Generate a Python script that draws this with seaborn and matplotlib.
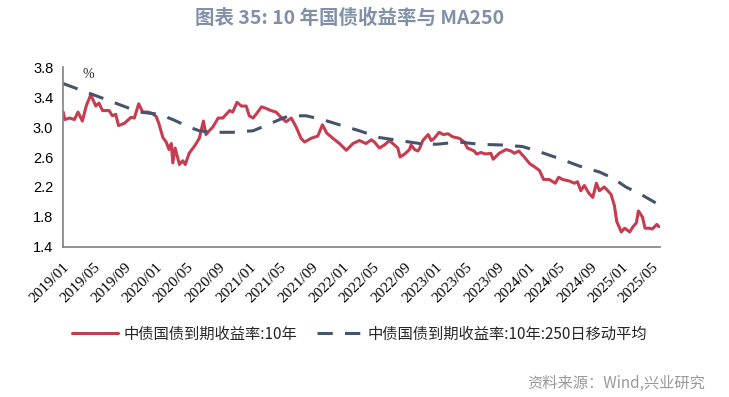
import seaborn as sns
import matplotlib.pyplot as plt
import matplotlib.dates as mdates
import pandas as pd

# 中债国债到期收益率:10年
yield_dates = [
    "2019-01-02", "2019-01-08", "2019-01-27", "2019-02-15", "2019-03-01", "2019-03-18",
    "2019-04-03", "2019-04-20", "2019-05-10", "2019-05-22", "2019-06-05", "2019-07-01",
    "2019-07-14", "2019-07-27", "2019-08-07", "2019-08-30", "2019-09-25", "2019-10-08",
    "2019-10-25", "2019-11-10", "2019-11-30", "2019-12-18", "2020-01-02", "2020-01-12",
    "2020-01-28", "2020-02-10", "2020-02-21", "2020-03-01", "2020-03-07", "2020-03-16",
    "2020-04-02", "2020-04-15", "2020-04-25", "2020-05-10", "2020-06-01", "2020-06-19",
    "2020-07-05", "2020-07-15", "2020-07-28", "2020-08-11", "2020-09-01", "2020-09-19",
    "2020-10-16", "2020-10-28", "2020-11-14", "2020-12-01", "2020-12-20", "2021-01-01",
    "2021-01-16", "2021-01-30", "2021-02-18", "2021-03-07", "2021-03-27", "2021-04-16",
    "2021-04-30", "2021-05-25", "2021-06-15", "2021-07-04", "2021-07-23", "2021-08-06",
    "2021-09-01", "2021-09-27", "2021-10-15", "2021-11-01", "2021-11-25", "2021-12-21",
    "2022-01-17", "2022-02-12", "2022-03-09", "2022-03-22", "2022-04-04", "2022-04-25",
    "2022-05-07", "2022-05-27", "2022-06-15", "2022-07-05", "2022-07-25", "2022-08-07",
    "2022-08-16", "2022-09-03", "2022-09-22", "2022-09-28", "2022-10-12", "2022-10-25",
    "2022-11-01", "2022-11-13", "2022-12-04", "2022-12-16", "2022-12-28", "2023-01-16",
    "2023-02-01", "2023-02-20", "2023-03-10", "2023-04-05", "2023-04-25", "2023-05-07",
    "2023-06-03", "2023-06-12", "2023-06-29", "2023-07-18", "2023-08-07", "2023-08-16",
    "2023-09-09", "2023-10-06", "2023-10-25", "2023-11-07", "2023-11-25", "2023-12-16",
    "2024-01-07", "2024-01-25", "2024-02-14", "2024-03-01", "2024-03-23", "2024-04-16",
    "2024-04-29", "2024-05-15", "2024-06-10", "2024-06-30", "2024-07-12", "2024-07-25",
    "2024-08-08", "2024-08-25", "2024-09-10", "2024-09-24", "2024-10-06", "2024-10-25",
    "2024-11-08", "2024-11-21", "2024-12-04", "2024-12-13", "2024-12-31", "2025-01-13",
    "2025-02-02", "2025-02-15", "2025-02-28", "2025-03-08", "2025-03-24", "2025-04-03",
    "2025-04-19", "2025-05-02", "2025-05-19", "2025-05-28",
]
yield_values = [
    3.20, 3.10, 3.12, 3.10, 3.20, 3.08,
    3.29, 3.43, 3.28, 3.32, 3.22, 3.22,
    3.15, 3.17, 3.02, 3.05, 3.13, 3.12,
    3.31, 3.20, 3.20, 3.18, 3.14, 3.05,
    2.86, 2.80, 2.70, 2.78, 2.52, 2.72,
    2.50, 2.55, 2.50, 2.65, 2.75, 2.85,
    3.08, 2.90, 2.95, 3.00, 3.12, 3.12,
    3.22, 3.20, 3.33, 3.28, 3.28, 3.15,
    3.12, 3.18, 3.27, 3.25, 3.22, 3.20,
    3.15, 3.07, 3.12, 3.00, 2.85, 2.80,
    2.85, 2.88, 3.03, 2.92, 2.85, 2.78,
    2.69, 2.78, 2.82, 2.80, 2.78, 2.83,
    2.80, 2.72, 2.76, 2.82, 2.76, 2.72,
    2.60, 2.64, 2.70, 2.76, 2.70, 2.68,
    2.72, 2.82, 2.90, 2.82, 2.85, 2.93,
    2.90, 2.91, 2.87, 2.85, 2.80, 2.72,
    2.68, 2.64, 2.66, 2.64, 2.65, 2.57,
    2.65, 2.70, 2.68, 2.65, 2.68, 2.60,
    2.51, 2.47, 2.42, 2.30, 2.30, 2.25,
    2.33, 2.30, 2.28, 2.25, 2.27, 2.15,
    2.22, 2.12, 2.06, 2.25, 2.15, 2.20,
    2.15, 2.10, 1.95, 1.74, 1.60, 1.65,
    1.60, 1.67, 1.72, 1.88, 1.80, 1.65,
    1.65, 1.64, 1.70, 1.67,
]

# 250日移动平均
ma_dates = [
    "2019-01-02", "2019-05-01", "2019-08-10", "2019-10-28", "2020-01-15", "2020-03-07",
    "2020-05-10", "2020-06-19", "2020-08-11", "2020-10-28", "2021-01-16", "2021-03-07",
    "2021-04-30", "2021-06-06", "2021-08-12", "2021-10-15", "2021-12-21", "2022-03-09",
    "2022-05-27", "2022-08-13", "2022-11-01", "2023-01-05", "2023-04-05", "2023-06-22",
    "2023-09-21", "2023-12-09", "2024-02-14", "2024-05-01", "2024-07-19", "2024-10-06",
    "2024-11-27", "2025-01-18", "2025-03-24", "2025-05-19", "2025-05-28",
]
ma_values = [
    3.58, 3.43, 3.30, 3.20, 3.17, 3.10,
    3.00, 2.95, 2.93, 2.93, 2.95, 3.02,
    3.10, 3.15, 3.15, 3.10, 3.03, 2.95,
    2.86, 2.82, 2.78, 2.77, 2.80, 2.77,
    2.76, 2.74, 2.67, 2.58, 2.48, 2.40,
    2.32, 2.20, 2.09, 1.98, 1.96,
]

yield_label = "中债国债到期收益率:10年"
ma_label = "中债国债到期收益率:10年:250日移动平均"
y_ticks = [1.4, 1.8, 2.2, 2.6, 3.0, 3.4, 3.8]

df_y = pd.DataFrame({"date": pd.to_datetime(yield_dates), "value": yield_values})
df_m = pd.DataFrame({"date": pd.to_datetime(ma_dates), "value": ma_values})

sns.set_style("white")
plt.rcParams['font.family'] = ['Noto Sans CJK SC', 'DejaVu Sans']

fig = plt.figure(figsize=(7.29, 3.97), dpi=100)
ax = fig.add_axes([0.0864, 0.378, 0.819, 0.453])

sns.lineplot(data=df_y, x="date", y="value", ax=ax, color="#C63C51", linewidth=2.2,
             label=yield_label)
sns.lineplot(data=df_m, x="date", y="value", ax=ax, color="#44546A", linewidth=2.2,
             label=ma_label)
ax.lines[1].set_dashes([5, 4])

ax.set_ylim(1.4, 3.8)
ax.set_yticks(y_ticks)
ax.set_yticklabels([f"{v:.1f}" for v in y_ticks], fontfamily="Liberation Sans", fontsize=10.5)
ax.set_xlim(pd.Timestamp("2019-01-01"), pd.Timestamp("2025-06-01"))
ax.xaxis.set_major_locator(mdates.MonthLocator(bymonth=[1, 5, 9]))
ax.xaxis.set_major_formatter(mdates.DateFormatter("%Y/%m"))
for lbl in ax.get_xticklabels():
    lbl.set_rotation(45)
    lbl.set_ha("right")
    lbl.set_rotation_mode("anchor")
    lbl.set_fontfamily("Liberation Serif")
    lbl.set_fontsize(11)
ax.set_xlabel("")
ax.set_ylabel("")

for side in ["top", "right"]:
    ax.spines[side].set_visible(False)
for side in ["left", "bottom"]:
    ax.spines[side].set_color("#808080")
    ax.spines[side].set_linewidth(1.2)
ax.tick_params(axis="both", direction="out", length=4, width=1, color="#808080",
               labelcolor="black", pad=3)
ax.tick_params(axis="x", pad=6)

ax.text(0.032, 0.995, "%", transform=ax.transAxes, fontsize=10,
        fontfamily="Liberation Serif", va="top", ha="left")

ax.legend(loc="upper center", bbox_to_anchor=(0.497, -0.36), ncol=2, frameon=False,
          fontsize=11, handlelength=3.0, columnspacing=1.3, handletextpad=0.35)

fig.text(0.479, 0.953, "图表 35: 10 年国债收益率与 MA250", ha="center", va="center",
         fontsize=14, fontweight="bold", color="#8190A8")
fig.text(0.967, 0.035, "资料来源：Wind,兴业研究", ha="right", va="center",
         fontsize=11, color="#999999")

plt.savefig("out.png", dpi=100)
